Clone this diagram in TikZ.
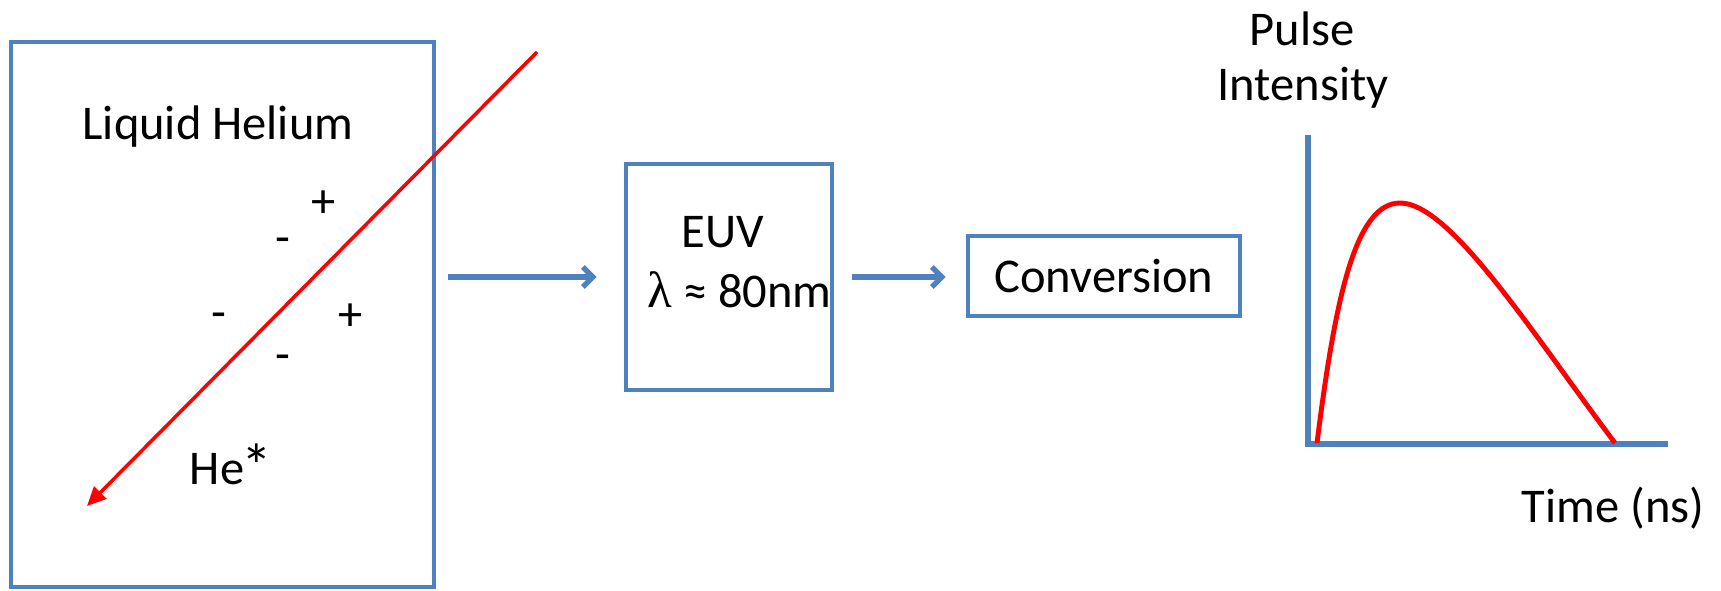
\documentclass[tikz,border=0pt]{standalone}
\usepackage{fontspec}
\setmainfont{Carlito}
\newfontfamily\greekfont{Liberation Serif}
\usetikzlibrary{arrows.meta, positioning}
\definecolor{box-blue}{RGB}{79,129,189}
\definecolor{beam-red}{RGB}{255,0,0}

\begin{document}
\begin{tikzpicture}[
  x = 0.02cm, y = -0.02cm,
  every node/.style = {font=\fontsize{27.6}{33}\selectfont, inner sep=0pt},
  % Box styles
  heliumbox/.style = {draw=box-blue, line width=2.2pt,
                      minimum width=8.46cm, minimum height=10.9cm},
  euvbox/.style    = {draw=box-blue, line width=2.2pt,
                      minimum width=4.12cm, minimum height=4.52cm},
  convbox/.style   = {draw=box-blue, line width=2.2pt,
                      minimum width=5.44cm, minimum height=1.6cm},
  charge/.style    = {anchor=base},
  % Arrow styles
  flowarrow/.style = {-{Straight Barb[length=0.2cm, width=0.4cm]},
                      line width=3pt, box-blue},
  beamarrow/.style = {-{Triangle[length=0.38cm, width=0.34cm]},
                      line width=2pt, beam-red},
  axisline/.style  = {line width=3pt, box-blue},
  pulseline/.style = {line width=2.8pt, beam-red},
]
\useasboundingbox (0,0) rectangle (1721,591);

% ── Nodes ──────────────────────────────────────────────────────────────────────

% Liquid helium cell (left)
\node[heliumbox] (lhe) at (222.5, 314.5) {};
\node[anchor=base] (lhelabel) at (218, 140) {Liquid Helium};
\node[anchor=base] (hestar) at (231, 484)
  {He\kern-1.5pt\raisebox{-2pt}{\fontsize{35}{40}\selectfont *}};

% charges along the track
\node[charge] (plusa)  at (324, 218) {+};
\node[charge] (minusa) at (283, 254) {-};
\node[charge] (minusb) at (219, 328) {-};
\node[charge] (plusb)  at (351, 330) {+};
\node[charge] (minusc) at (283, 370) {-};

% EUV emission (centre)
\node[euvbox] (euv) at (729, 277) {};
\node[anchor=base west] (euvlabel) at (681, 248) {EUV};
\node[anchor=base west] (lambda) at (647, 308)
  {{\greekfont\fontsize{29}{33}\selectfont λ} ≈ 80nm};

% Conversion (right)
\node[convbox] (conv) at (1104, 276) {Conversion};

% Pulse plot (far right)
\node[anchor=base] (pulse) at (1302, 46) {Pulse};
\node[anchor=base] (intensity) at (1303, 101) {Intensity};
\node[anchor=base] (time) at (1613, 522) {Time (ns)};

\coordinate (ytop)   at (1308, 135);
\coordinate (origin) at (1308, 444);
\coordinate (xend)   at (1668, 444);

\coordinate (beamin)  at (537, 52);
\coordinate (beamout) at (87, 506);

% ── Arrows ─────────────────────────────────────────────────────────────────────

% incoming particle track
\draw[beamarrow] (beamin) -- (beamout);

% cell → EUV → conversion
\draw[flowarrow, shorten <=0.25cm, shorten >=0.55cm]
  (lhe.east |- euv.west) -- (euv.west);
\draw[flowarrow, shorten <=0.37cm, shorten >=0.41cm]
  (euv.east) -- (euv.east -| conv.west);

% axes and pulse shape
\draw[axisline] (ytop) -- (origin) -- (xend);
\draw[pulseline] (1317, 443) .. controls (1335, 300) and (1355, 203) .. (1400, 203)
  .. controls (1450, 203) and (1530, 330) .. (1615, 443);

\end{tikzpicture}
\end{document}
